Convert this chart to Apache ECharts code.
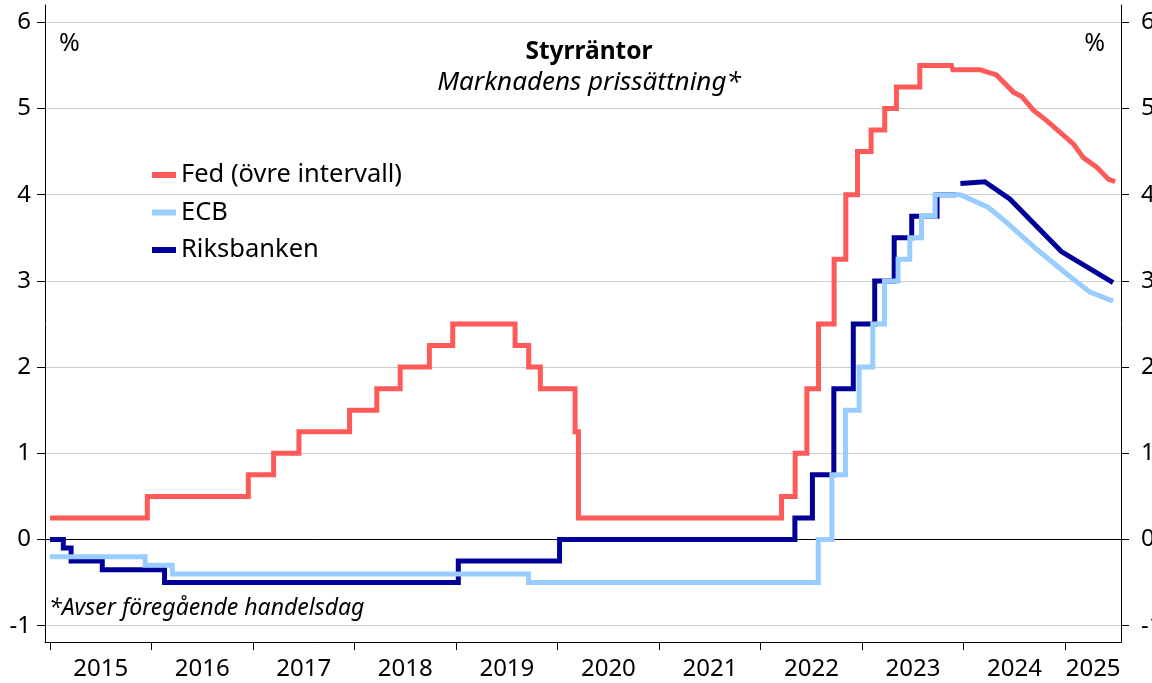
<!DOCTYPE html>
<html>
<head>
<meta charset="utf-8">
<script src="https://cdn.jsdelivr.net/npm/echarts@6/dist/echarts.min.js"></script>
<style>
html,body{margin:0;padding:0;background:#fff;}
#chart{width:1152px;height:683px;}
</style>
</head>
<body>
<div id="chart"></div>
<script>
// ---- Data ----
const seriesNames = ['Fed (övre intervall)', 'ECB', 'Riksbanken'];
const yearTicks = [2015, 2016, 2017, 2018, 2019, 2020, 2021, 2022, 2023, 2024, 2025];
const yTicks = [-1, 0, 1, 2, 3, 4, 5, 6];

// Policy rate decisions [effective date, rate]
const fedChanges = [
  ['2015-01-01', 0.25], ['2015-12-17', 0.5], ['2016-12-15', 0.75], ['2017-03-16', 1.0],
  ['2017-06-15', 1.25], ['2017-12-14', 1.5], ['2018-03-22', 1.75], ['2018-06-14', 2.0],
  ['2018-09-27', 2.25], ['2018-12-20', 2.5], ['2019-08-01', 2.25], ['2019-09-19', 2.0],
  ['2019-10-31', 1.75], ['2020-03-04', 1.25], ['2020-03-16', 0.25], ['2022-03-17', 0.5],
  ['2022-05-05', 1.0], ['2022-06-16', 1.75], ['2022-07-28', 2.5], ['2022-09-22', 3.25],
  ['2022-11-03', 4.0], ['2022-12-15', 4.5], ['2023-02-02', 4.75], ['2023-03-23', 5.0],
  ['2023-05-04', 5.25], ['2023-07-27', 5.5]
];
const fedHistEnd = '2023-11-18';
const fedForward = [
  ['2023-11-23', 5.45], ['2024-02-28', 5.45], ['2024-04-28', 5.39], ['2024-06-28', 5.19],
  ['2024-07-28', 5.14], ['2024-09-08', 4.98], ['2024-10-26', 4.86], ['2025-01-30', 4.59],
  ['2025-03-07', 4.43], ['2025-04-24', 4.32], ['2025-06-05', 4.18], ['2025-06-29', 4.15]
];

const ecbChanges = [
  ['2015-01-01', -0.2], ['2015-12-09', -0.3], ['2016-03-16', -0.4], ['2019-09-18', -0.5],
  ['2022-07-27', 0.0], ['2022-09-14', 0.75], ['2022-11-02', 1.5], ['2022-12-21', 2.0],
  ['2023-02-08', 2.5], ['2023-03-22', 3.0], ['2023-05-10', 3.25], ['2023-06-21', 3.5],
  ['2023-08-02', 3.75], ['2023-09-20', 4.0]
];
const ecbHistEnd = '2023-12-19';
const ecbForward = [
  ['2023-12-20', 4.00], ['2024-03-29', 3.855], ['2024-06-03', 3.68], ['2024-09-19', 3.37],
  ['2025-01-06', 3.08], ['2025-03-31', 2.87], ['2025-06-22', 2.765]
];

const riksChanges = [
  ['2015-01-01', 0.0], ['2015-02-18', -0.1], ['2015-03-18', -0.25], ['2015-07-08', -0.35],
  ['2016-02-17', -0.5], ['2019-01-09', -0.25], ['2020-01-08', 0.0], ['2022-05-04', 0.25],
  ['2022-07-06', 0.75], ['2022-09-21', 1.75], ['2022-11-30', 2.5], ['2023-02-15', 3.0],
  ['2023-04-26', 3.5], ['2023-06-28', 3.75], ['2023-09-27', 4.0]
];
const riksHistEnd = '2023-12-05';
const riksForward = [
  ['2023-12-20', 4.13], ['2024-03-17', 4.15], ['2024-06-15', 3.95], ['2024-12-18', 3.34],
  ['2025-06-22', 2.98]
];

const colors = ['#ff5a5a', '#99ccff', '#000099'];

// ---- Helpers ----
function dy(s) {
  const d = new Date(s + 'T00:00:00Z');
  const y = d.getUTCFullYear();
  const a = Date.UTC(y, 0, 1), b = Date.UTC(y + 1, 0, 1);
  return y + (d.getTime() - a) / (b - a);
}
function buildSeries(changes, histEnd, forward, breakBetween) {
  const out = [];
  changes.forEach((c, i) => {
    const x = dy(c[0]);
    if (i > 0) out.push([x, changes[i - 1][1]]);
    out.push([x, c[1]]);
  });
  out.push([dy(histEnd), changes[changes.length - 1][1]]);
  if (breakBetween) out.push([dy(histEnd) + 0.001, '-']);
  forward.forEach(f => out.push([dy(f[0]), f[1]]));
  return out;
}

const xMin = 2014.951, xMax = 2025.549;
const labelPos = yearTicks.map((y, i) => {
  const next = i < yearTicks.length - 1 ? yearTicks[i + 1] : xMax;
  return (y + next) / 2;
});

const FONT = '"Noto Sans", sans-serif';

const chart = echarts.init(document.getElementById('chart'), null, {renderer: 'canvas'});
chart.setOption({
  animation: false,
  backgroundColor: '#ffffff',
  textStyle: {fontFamily: FONT},
  title: {
    text: 'Styrräntor',
    subtext: 'Marknadens prissättning*',
    left: 589, top: 40, padding: 0, textAlign: 'center', itemGap: 5,
    textStyle: {fontFamily: FONT, fontSize: 24.5, fontWeight: 'bold', color: '#000'},
    subtextStyle: {fontFamily: FONT, fontSize: 26, fontStyle: 'italic', color: '#000'}
  },
  legend: {
    orient: 'vertical', left: 152, top: 160, padding: 0,
    itemWidth: 24, itemHeight: 6, itemGap: 7.5, icon: 'rect',
    data: seriesNames,
    textStyle: {fontFamily: FONT, fontSize: 25.5, color: '#000', lineHeight: 30}
  },
  grid: [
    {left: 45, right: 31, top: 5, bottom: 41, containLabel: false, outerBoundsMode: 'none'},
    {left: 45, right: 31, top: 22.3, bottom: 57.3, containLabel: false, outerBoundsMode: 'none'}
  ],
  xAxis: [
    {
      type: 'value', gridIndex: 0, min: xMin, max: xMax, position: 'bottom',
      axisLine: {show: true, lineStyle: {color: '#000', width: 1}},
      axisTick: {show: true, customValues: yearTicks, length: 8, lineStyle: {color: '#000'}},
      axisLabel: {show: true, customValues: labelPos, margin: 15,
        formatter: v => String(Math.floor(v)),
        fontFamily: FONT, fontSize: 24, color: '#000'},
      splitLine: {show: false}
    },
    {
      type: 'value', gridIndex: 1, min: xMin, max: xMax,
      axisLine: {show: true, onZero: true, lineStyle: {color: '#000', width: 1}},
      axisTick: {show: false}, axisLabel: {show: false}, splitLine: {show: false}
    }
  ],
  yAxis: [
    {type: 'value', gridIndex: 0, min: 0, max: 1, position: 'left',
      axisLine: {show: true, lineStyle: {color: '#000'}}, axisTick: {show: false},
      axisLabel: {show: false}, splitLine: {show: false}},
    {type: 'value', gridIndex: 0, min: 0, max: 1, position: 'right',
      axisLine: {show: true, lineStyle: {color: '#000'}}, axisTick: {show: false},
      axisLabel: {show: false}, splitLine: {show: false}},
    {type: 'value', gridIndex: 1, min: yTicks[0], max: yTicks[yTicks.length - 1], interval: 1, position: 'left',
      axisLine: {show: false},
      axisTick: {show: true, length: 8, lineStyle: {color: '#000'}},
      axisLabel: {margin: 14, fontFamily: FONT, fontSize: 24, color: '#000'},
      splitLine: {show: true, lineStyle: {color: '#cccccc', width: 1}}},
    {type: 'value', gridIndex: 1, min: yTicks[0], max: yTicks[yTicks.length - 1], interval: 1, position: 'right',
      axisLine: {show: false},
      axisTick: {show: true, length: 8, lineStyle: {color: '#000'}},
      axisLabel: {margin: 20, fontFamily: FONT, fontSize: 24, color: '#000'},
      splitLine: {show: false}}
  ],
  graphic: [
    {type: 'text', left: 59, top: 31, style: {text: '%', fontFamily: FONT, fontSize: 25, fill: '#000'}},
    {type: 'text', right: 47, top: 31, style: {text: '%', fontFamily: FONT, fontSize: 25, fill: '#000'}},
    {type: 'text', left: 49, top: 597, style: {text: '*Avser föregående handelsdag', fontFamily: FONT, fontSize: 23, fontStyle: 'italic', fill: '#000'}}
  ],
  series: [
    {name: seriesNames[0], type: 'line', xAxisIndex: 1, yAxisIndex: 2, z: 4,
      data: buildSeries(fedChanges, fedHistEnd, fedForward, false),
      showSymbol: false, color: colors[0],
      lineStyle: {width: 5, color: colors[0], join: 'miter', cap: 'butt'}},
    {name: seriesNames[1], type: 'line', xAxisIndex: 1, yAxisIndex: 2, z: 3,
      data: buildSeries(ecbChanges, ecbHistEnd, ecbForward, false),
      showSymbol: false, color: colors[1],
      lineStyle: {width: 5, color: colors[1], join: 'miter', cap: 'butt'}},
    {name: seriesNames[2], type: 'line', xAxisIndex: 1, yAxisIndex: 2, z: 2,
      data: buildSeries(riksChanges, riksHistEnd, riksForward, true),
      showSymbol: false, color: colors[2], connectNulls: false,
      lineStyle: {width: 5, color: colors[2], join: 'miter', cap: 'butt'}}
  ]
});
</script>
</body>
</html>
